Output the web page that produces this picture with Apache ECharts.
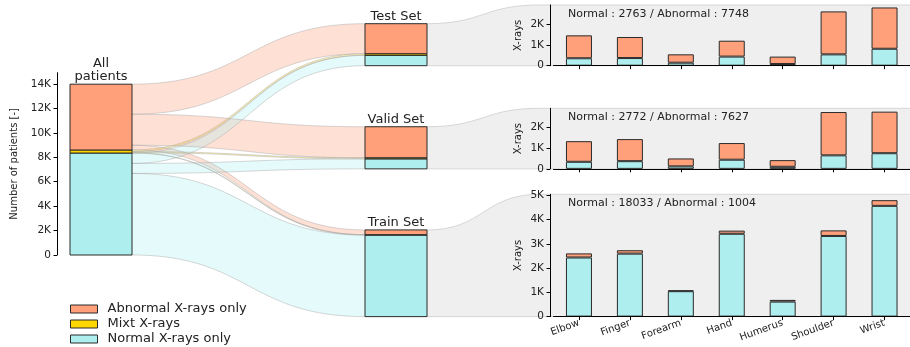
<!DOCTYPE html>
<html>
<head>
<meta charset="utf-8">
<script src="https://cdn.jsdelivr.net/npm/echarts@6/dist/echarts.min.js"></script>
<style>
  html, body { margin: 0; padding: 0; background: #fff; }
  #chart { width: 910px; height: 347px; }
</style>
</head>
<body>
<div id="chart"></div>
<script>
// ---- Patients per split (left flow diagram) ----
const setNames = ['Test Set', 'Valid Set', 'Train Set'];
const abnormalPatients = [2460, 2540, 390];
const mixtPatients = [130, 90, 30];
const normalPatients = [850, 820, 6680];
const patientTicks = [0, 2000, 4000, 6000, 8000, 10000, 12000, 14000];

// ---- X-rays per body part, for each split ----
const bodyParts = ['Elbow', 'Finger', 'Forearm', 'Hand', 'Humerus', 'Shoulder', 'Wrist'];
const testNormal = [360, 370, 145, 440, 80, 548, 820];
const testAbnormal = [1110, 1020, 405, 770, 360, 2082, 2001];
const validNormal = [340, 370, 120, 440, 100, 650, 752];
const validAbnormal = [990, 1060, 380, 800, 320, 2080, 1997];
const trainNormal = [2440, 2600, 1050, 3420, 620, 3330, 4573];
const trainAbnormal = [170, 140, 30, 130, 70, 230, 234];
const xrayTicksSmall = [0, 1000, 2000];
const xrayTicksLarge = [0, 1000, 2000, 3000, 4000, 5000];

// ---- styling / layout ----
const FONT = 'DejaVu Sans';
const TEXT = '#222';
const EDGE = '#2a2a2a';
const COL = { abnormal: '#FFA07A', mixt: '#FFD700', normal: '#AFEEEE' };
const FLOW = { abnormal: 'rgba(255,160,122,0.32)', mixt: 'rgba(255,215,0,0.32)', normal: 'rgba(175,238,238,0.32)' };
const FLOW_EDGE = 'rgba(170,170,170,0.6)';

const LEFT_AXIS_X = 57, LEFT_TOP = 72.7, LEFT_ZERO = 255, LEFT_MAX = 14930;
const ALL_X = [70, 132], SET_X = [365, 427], FUNNEL_END_X = 540, RIGHT_EDGE = 910;
const SET_TOP_VALUE = 18944, SET_GAP_VALUE = 5000;
const PANEL_LEFT = 553.5, PANEL_WIDTH = 360, Y_OFFSET = 3.5;
const PANEL_TOPS = [5, 108.3, 194.3];
const PANEL_MAX = [2940, 2910, 5050];

const pxPerPatient = (LEFT_ZERO - LEFT_TOP) / LEFT_MAX;
const toPx = v => LEFT_ZERO - v * pxPerPatient;
const sum = a => a.reduce((s, v) => s + v, 0);
const kFmt = v => (v === 0 ? '0' : (v / 1000) + 'K');

// stacked node segments: normal at the bottom, mixt, abnormal on top
const N = sum(normalPatients), M = sum(mixtPatients), A = sum(abnormalPatients);
const allNode = { normal: [0, N], mixt: [N, N + M], abnormal: [N + M, N + M + A], top: N + M + A };
const setNodes = [];
let cursorTop = SET_TOP_VALUE;
setNames.forEach((name, i) => {
  const n = normalPatients[i], m = mixtPatients[i], a = abnormalPatients[i];
  const bottom = cursorTop - (n + m + a);
  setNodes.push({
    bottom, top: cursorTop,
    normal: [bottom, bottom + n], mixt: [bottom + n, bottom + n + m], abnormal: [bottom + n + m, cursorTop]
  });
  cursorTop = bottom - SET_GAP_VALUE;
});

function flowsFor(type, values) {
  let c = allNode[type][1];
  return values.map((v, i) => {
    const s1 = c, s0 = c - v; c = s0;
    const t = setNodes[i][type];
    return [s1, s0, t[1], t[0]];
  });
}

function bez(x0, y0, x1, y1, steps) {
  const xm = (x0 + x1) / 2, pts = [];
  for (let k = 0; k <= steps; k++) {
    const t = k / steps, u = 1 - t;
    const x = u * u * u * x0 + 3 * u * u * t * xm + 3 * u * t * t * xm + t * t * t * x1;
    const y = u * u * u * y0 + 3 * u * u * t * y0 + 3 * u * t * t * y1 + t * t * t * y1;
    pts.push([x, y]);
  }
  return pts;
}

function flowRenderer(type) {
  return function (params, api) {
    const x0 = api.coord([ALL_X[1], 0])[0], x1 = api.coord([SET_X[0], 0])[0];
    const yS1 = api.coord([0, api.value(0)])[1], yS0 = api.coord([0, api.value(1)])[1];
    const yT1 = api.coord([0, api.value(2)])[1], yT0 = api.coord([0, api.value(3)])[1];
    const topEdge = bez(x0, yS1, x1, yT1, 48);
    const botEdge = bez(x0, yS0, x1, yT0, 48);
    const poly = topEdge.concat(botEdge.slice().reverse());
    return {
      type: 'group', children: [
        { type: 'polygon', shape: { points: poly }, style: { fill: FLOW[type], stroke: null }, z2: 1 },
        { type: 'polyline', shape: { points: topEdge }, style: { stroke: FLOW_EDGE, lineWidth: 0.8, fill: null }, z2: 2 },
        { type: 'polyline', shape: { points: botEdge }, style: { stroke: FLOW_EDGE, lineWidth: 0.8, fill: null }, z2: 2 }
      ]
    };
  };
}

// node segment rows: [xLeft, xRight, low, high, typeIndex]
const TYPES = ['normal', 'mixt', 'abnormal'];
const nodeRows = [];
TYPES.forEach((t, k) => nodeRows.push([ALL_X[0], ALL_X[1], allNode[t][0], allNode[t][1], k]));
setNodes.forEach(s => TYPES.forEach((t, k) => nodeRows.push([SET_X[0], SET_X[1], s[t][0], s[t][1], k])));

const titleRows = [[(ALL_X[0] + ALL_X[1]) / 2, allNode.top]].concat(
  setNodes.map(s => [(SET_X[0] + SET_X[1]) / 2, s.top]));
const titleTexts = ['All\npatients'].concat(setNames);

const funnelRows = setNodes.map((s, i) => [s.top, s.bottom, i]);

const panels = [
  { normal: testNormal, abnormal: testAbnormal, ticks: xrayTicksSmall },
  { normal: validNormal, abnormal: validAbnormal, ticks: xrayTicksSmall },
  { normal: trainNormal, abnormal: trainAbnormal, ticks: xrayTicksLarge }
];

const grids = [{ left: LEFT_AXIS_X, top: LEFT_TOP, width: RIGHT_EDGE - LEFT_AXIS_X, height: LEFT_ZERO - LEFT_TOP }];
const xAxes = [{ type: 'value', gridIndex: 0, min: LEFT_AXIS_X, max: RIGHT_EDGE, show: false }];
const yAxes = [{
  type: 'value', gridIndex: 0, min: 0, max: LEFT_MAX, z: 10,
  name: 'Number of patients [-]', nameLocation: 'middle', nameGap: 35,
  nameTextStyle: { fontFamily: FONT, fontSize: 10, color: TEXT },
  axisLine: { show: true, lineStyle: { color: '#000', width: 1 } },
  axisTick: { show: true, length: 3.5, customValues: patientTicks, lineStyle: { color: '#000' } },
  axisLabel: { customValues: patientTicks, formatter: kFmt, fontFamily: FONT, fontSize: 10.5, color: TEXT, margin: 6 },
  splitLine: { show: false }
}];

const series = [];
const graphics = [];

// grey funnels leading from each split into its panel
series.push({
  type: 'custom', name: 'panel background', xAxisIndex: 0, yAxisIndex: 0, z: 1, silent: true,
  data: funnelRows,
  renderItem: function (params, api) {
    const i = api.value(2);
    const xa = api.coord([SET_X[1], 0])[0], xb = api.coord([FUNNEL_END_X, 0])[0], xr = api.coord([RIGHT_EDGE, 0])[0];
    const yTop = api.coord([0, api.value(0)])[1], yBot = api.coord([0, api.value(1)])[1];
    const yPanel = PANEL_TOPS[i];
    const curve = bez(xa, yTop, xb, yPanel, 40);
    const outline = curve.concat([[xr + 5, yPanel], [xr + 5, yBot], [xa, yBot]]);
    return {
      type: 'group', children: [
        { type: 'polygon', shape: { points: outline }, style: { fill: '#efefef', stroke: null } },
        { type: 'polyline', shape: { points: curve.concat([[xr + 5, yPanel]]) }, style: { stroke: '#d6d6d6', lineWidth: 1, fill: null } },
        { type: 'line', shape: { x1: xa, y1: yBot, x2: xr + 5, y2: yBot }, style: { stroke: '#d6d6d6', lineWidth: 1 } }
      ]
    };
  }
});

// flows, one series per patient group
[['abnormal', 'Abnormal X-rays only', abnormalPatients],
 ['mixt', 'Mixt X-rays', mixtPatients],
 ['normal', 'Normal X-rays only', normalPatients]].forEach(([type, name, vals]) => {
  series.push({
    type: 'custom', name, xAxisIndex: 0, yAxisIndex: 0, z: 2, silent: true,
    itemStyle: { color: COL[type], borderColor: EDGE, borderWidth: 1 },
    data: flowsFor(type, vals),
    renderItem: flowRenderer(type)
  });
});

// stacked node bars
series.push({
  type: 'custom', name: 'nodes', xAxisIndex: 0, yAxisIndex: 0, z: 4, silent: true,
  data: nodeRows,
  renderItem: function (params, api) {
    const p0 = api.coord([api.value(0), api.value(3)]);
    const p1 = api.coord([api.value(1), api.value(2)]);
    return {
      type: 'rect',
      shape: { x: p0[0], y: p0[1], width: p1[0] - p0[0], height: p1[1] - p0[1] },
      style: { fill: COL[TYPES[api.value(4)]], stroke: EDGE, lineWidth: 1 }
    };
  }
});

// node titles
series.push({
  type: 'custom', name: 'node titles', xAxisIndex: 0, yAxisIndex: 0, z: 4, silent: true,
  data: titleRows,
  renderItem: function (params, api) {
    const p = api.coord([api.value(0), api.value(1)]);
    return {
      type: 'text', x: p[0], y: p[1] - 1,
      style: {
        text: titleTexts[params.dataIndex], fontFamily: FONT, fontSize: 13, fill: TEXT,
        align: 'center', verticalAlign: 'bottom', lineHeight: 13
      }
    };
  }
});

// body-part panels
panels.forEach((p, i) => {
  const gi = i + 1;
  const baseline = toPx(setNodes[i].bottom);
  grids.push({ left: PANEL_LEFT, width: PANEL_WIDTH, top: PANEL_TOPS[i], height: baseline - PANEL_TOPS[i] });
  xAxes.push({
    type: 'category', gridIndex: gi, data: bodyParts, z: 10,
    axisLine: { show: true, lineStyle: { color: '#000', width: 1 } },
    axisTick: { show: true, alignWithLabel: true, length: 3.5, lineStyle: { color: '#000' } },
    axisLabel: { show: i === 2, rotate: 20, fontFamily: FONT, fontSize: 10, color: TEXT, margin: 6 },
    splitLine: { show: false }
  });
  yAxes.push({
    type: 'value', gridIndex: gi, min: 0, max: PANEL_MAX[i], offset: Y_OFFSET, z: 10,
    name: 'X-rays', nameLocation: 'middle', nameGap: 27,
    nameTextStyle: { fontFamily: FONT, fontSize: 10, color: TEXT },
    axisLine: { show: true, lineStyle: { color: '#000', width: 1 } },
    axisTick: { show: true, length: 3.5, customValues: p.ticks, lineStyle: { color: '#000' } },
    axisLabel: { customValues: p.ticks, formatter: kFmt, fontFamily: FONT, fontSize: 10.5, color: TEXT, margin: 6 },
    splitLine: { show: false }
  });
  series.push({
    type: 'bar', name: 'Normal X-rays only', xAxisIndex: gi, yAxisIndex: gi, stack: 'p' + i, barWidth: 26, z: 5,
    itemStyle: { color: COL.normal, borderColor: EDGE, borderWidth: 1 }, data: p.normal
  });
  series.push({
    type: 'bar', name: 'Abnormal X-rays only', xAxisIndex: gi, yAxisIndex: gi, stack: 'p' + i, barWidth: 26, z: 5,
    itemStyle: { color: COL.abnormal, borderColor: EDGE, borderWidth: 1 }, data: p.abnormal
  });
  graphics.push({
    type: 'text', x: 568, y: PANEL_TOPS[i] + 9, z: 10,
    style: {
      text: 'Normal : ' + sum(p.normal) + ' / Abnormal : ' + sum(p.abnormal),
      fontFamily: FONT, fontSize: 11, fill: TEXT, verticalAlign: 'middle'
    }
  });
});

const chart = echarts.init(document.getElementById('chart'), null, { renderer: 'canvas' });
chart.setOption({
  backgroundColor: '#fff',
  animation: false,
  grid: grids,
  xAxis: xAxes,
  yAxis: yAxes,
  legend: {
    data: ['Abnormal X-rays only', 'Mixt X-rays', 'Normal X-rays only'],
    orient: 'vertical', left: 70, top: 302, padding: 0,
    itemWidth: 27, itemHeight: 8, itemGap: 1, icon: 'rect', selectedMode: false,
    itemStyle: { borderColor: EDGE, borderWidth: 1 },
    textStyle: { fontFamily: FONT, fontSize: 13, color: TEXT, lineHeight: 14, padding: [0, 0, 0, 5] }
  },
  graphic: graphics,
  series
});
</script>
</body>
</html>
